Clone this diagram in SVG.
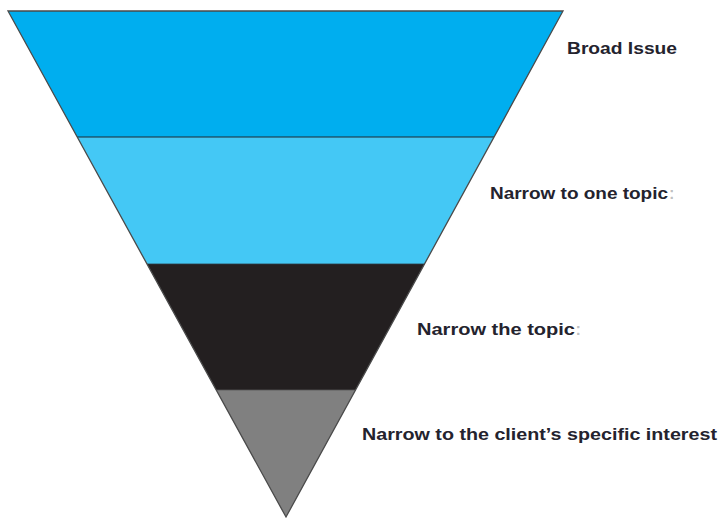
<svg xmlns="http://www.w3.org/2000/svg" width="718" height="520" viewBox="0 0 718 520">
  <style>
    .band { stroke: none; }
    .edge { fill: none; stroke: #4a4a4a; stroke-width: 1.3; stroke-linejoin: miter; }
    .sep { stroke: #1e2a33; stroke-width: 1.2; }
    .label { font-family: "Liberation Sans", Arial, Helvetica, sans-serif; font-weight: bold; font-size: 16.5px; fill: #24232e; }
    .faint { fill-opacity: 0.3; }
  </style>
  <rect width="718" height="520" fill="#ffffff"/>

  <g id="level-broad">
    <polygon class="band" points="8,11 563,11 494,137 77.2,137" fill="#00aeef"/>
  </g>
  <g id="level-one-topic">
    <polygon class="band" points="77.2,137 494,137 424.5,264 147,264" fill="#44c8f5"/>
  </g>
  <g id="level-narrow">
    <polygon class="band" points="147,264 424.5,264 355.5,390 216.2,390" fill="#231f20"/>
  </g>
  <g id="level-specific">
    <polygon class="band" points="216.2,390 355.5,390 286,517" fill="#808080"/>
  </g>

  <g id="connectors">
    <line class="sep" x1="77.2" y1="137" x2="494" y2="137"/>
    <line x1="147" y1="264" x2="424.5" y2="264" stroke="#2b3a44" stroke-width="0.8"/>
    <line x1="216.2" y1="390" x2="355.5" y2="390" stroke="#555" stroke-width="0.8"/>
    <polygon class="edge" points="8,11 563,11 286,517"/>
  </g>

  <g id="labels">
    <text class="label" x="567" y="54" textLength="110" lengthAdjust="spacingAndGlyphs">Broad Issue</text>
    <text class="label" x="490" y="198.5" textLength="178" lengthAdjust="spacingAndGlyphs">Narrow to one topic</text>
    <text class="label faint" x="669" y="198.5">:</text>
    <text class="label" x="417" y="335" textLength="158" lengthAdjust="spacingAndGlyphs">Narrow the topic</text>
    <text class="label faint" x="575.5" y="335">:</text>
    <text class="label" x="362" y="440" textLength="355" lengthAdjust="spacingAndGlyphs">Narrow to the client’s specific interest</text>
  </g>
</svg>
